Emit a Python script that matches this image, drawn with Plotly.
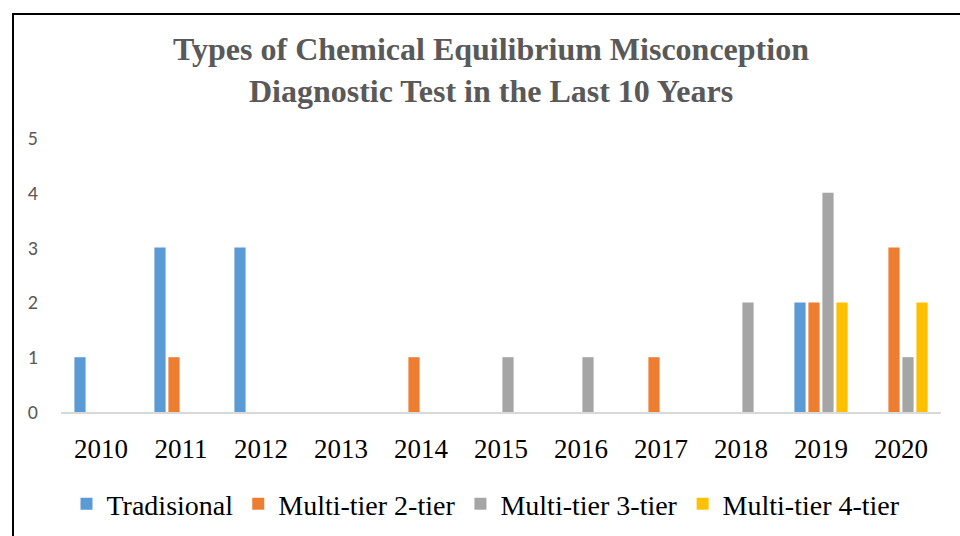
import plotly.graph_objects as go

years = ["2010", "2011", "2012", "2013", "2014", "2015", "2016", "2017", "2018", "2019", "2020"]
tradisional = [1, 3, 3, 0, 0, 0, 0, 0, 0, 2, 0]
tier2 = [0, 1, 0, 0, 1, 0, 0, 1, 0, 2, 3]
tier3 = [0, 0, 0, 0, 0, 1, 1, 0, 2, 4, 1]
tier4 = [0, 0, 0, 0, 0, 0, 0, 0, 0, 2, 2]

series = [
    ("Tradisional", tradisional, "#5B9BD5"),
    ("Multi-tier 2-tier", tier2, "#ED7D31"),
    ("Multi-tier 3-tier", tier3, "#A5A5A5"),
    ("Multi-tier 4-tier", tier4, "#FFC000"),
]

fig = go.Figure()
for name, vals, color in series:
    fig.add_trace(go.Bar(x=years, y=vals, name=name, marker=dict(color=color, line=dict(width=0))))

W, H = 960, 536
L, R, T, B = 61, 19, 138, 124
pw, ph = W - L - R, H - T - B

def px_x(p):
    return (p - L) / pw

def px_y(p):
    return (H - B - p) / ph

fig.update_layout(
    width=W, height=H,
    margin=dict(l=L, r=R, t=T, b=B),
    paper_bgcolor="white", plot_bgcolor="white",
    barmode="group", bargap=0.3, bargroupgap=0.2,
    title=dict(
        text="<b>Types of Chemical Equilibrium Misconception<br>Diagnostic Test in the Last 10 Years</b>",
        x=491 / W, xanchor="center", y=1 - 60 / H, yanchor="middle",
        font=dict(family="Liberation Serif, Times New Roman, serif", size=32, color="#595959"),
    ),
    showlegend=True,
    legend=dict(
        orientation="h", x=486 / W, xanchor="center", xref="container",
        y=1 - 504 / H, yanchor="middle", yref="container",
        font=dict(family="Liberation Serif, Times New Roman, serif", size=28, color="#000000"),
        bgcolor="rgba(0,0,0,0)", itemwidth=30,
    ),
    xaxis=dict(
        type="category", showgrid=False, showline=True, linecolor="#D9D9D9", linewidth=2,
        ticks="", tickfont=dict(family="Liberation Serif, Times New Roman, serif", size=27, color="#000000"),
        ticklabelstandoff=12,
    ),
    yaxis=dict(
        range=[0, 5], dtick=1, showgrid=False, zeroline=False, showline=False, ticks="",
        tickfont=dict(family="Carlito, Lato, Liberation Sans, sans-serif", size=20, color="#595959"),
        ticklabelstandoff=22,
    ),
    shapes=[dict(
        type="rect", xref="paper", yref="paper",
        x0=px_x(13), x1=px_x(962), y0=px_y(545), y1=px_y(14),
        line=dict(color="#000000", width=2), fillcolor="rgba(0,0,0,0)", layer="above",
    )],
)

fig.write_html(
    "out.html",
    config={"displayModeBar": False},
    post_script="document.body.style.margin='0px';document.body.style.padding='0px';",
)
